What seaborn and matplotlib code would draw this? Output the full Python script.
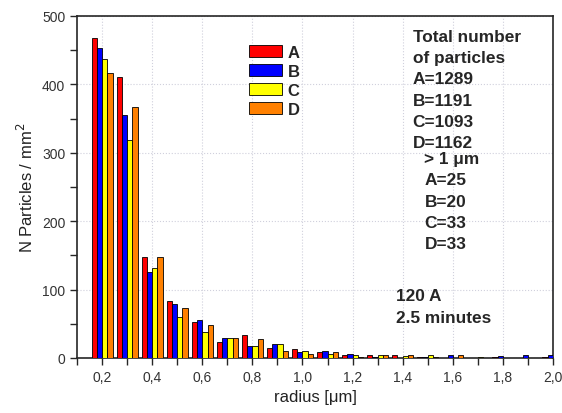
import pandas as pd
import seaborn as sns
import matplotlib.pyplot as plt
from matplotlib.ticker import MultipleLocator, FuncFormatter

# histogram bins (radius, um) and counts per mm^2 for the four samples
radius = [0.2, 0.3, 0.4, 0.5, 0.6, 0.7, 0.8, 0.9, 1.0, 1.1,
          1.2, 1.3, 1.4, 1.5, 1.6, 1.7, 1.8, 1.9, 2.0]
count_a = [468, 411, 148, 83, 53, 24, 34, 15, 13, 9, 4, 4, 4, 1, 0, 0, 1, 0, 1]
count_b = [453, 355, 125, 79, 55, 29, 17, 21, 8, 10, 6, 2, 0, 1, 4, 0, 3, 4, 4]
count_c = [437, 319, 131, 60, 38, 29, 17, 21, 10, 6, 5, 4, 3, 4, 0, 1, 0, 0, 0]
count_d = [417, 367, 148, 73, 48, 29, 28, 10, 6, 8, 1, 5, 4, 1, 4, 0, 0, 0, 0]
series = ["A", "B", "C", "D"]
colors = ["#ff0000", "#0000ff", "#ffff00", "#ff8000"]

total_text = "Total number\nof particles\nA=1289\nB=1191\nC=1093\nD=1162"
big_text = "> 1 \u03bcm\nA=25\nB=20\nC=33\nD=33"
run_text = "120 A\n2.5 minutes"

rows = []
for name, vals in zip(series, [count_a, count_b, count_c, count_d]):
    for r, v in zip(radius, vals):
        rows.append({"radius": r, "count": v, "series": name})
df = pd.DataFrame(rows)

sns.set_style("ticks")
plt.rcParams['font.family'] = ['Liberation Sans', 'DejaVu Sans']

fig = plt.figure(figsize=(5.62, 4.14), dpi=100)
ax = fig.add_axes([0.137, 0.133, 0.847, 0.826])

sns.barplot(data=df, x="radius", y="count", hue="series", palette=colors,
            saturation=1, native_scale=True, width=0.84, edgecolor="black",
            linewidth=0.6, ax=ax, zorder=3)

ax.set_xlim(0.1, 2.0)
ax.set_ylim(0, 500)
ax.xaxis.set_major_locator(MultipleLocator(0.2))
ax.xaxis.set_minor_locator(MultipleLocator(0.1))
ax.xaxis.set_major_formatter(FuncFormatter(lambda v, p: f"{v:.1f}".replace(".", ",")))
ax.yaxis.set_major_locator(MultipleLocator(100))
ax.yaxis.set_minor_locator(MultipleLocator(50))
ax.tick_params(which="both", direction="out", length=5, width=1, labelsize=10,
               labelcolor="#333333")
ax.grid(True, which="major", linestyle=":", color="#d0d0dc", linewidth=0.8, zorder=0)
for s in ax.spines.values():
    s.set_visible(True)
    s.set_linewidth(1.2)

ax.set_xlabel("radius [\u03bcm]", fontsize=12, color="#222222")
ax.set_ylabel("N Particles / mm$^2$", fontsize=12, color="#222222")

leg = ax.legend(loc="upper left", bbox_to_anchor=(0.33, 0.96), frameon=False,
                fontsize=12, handlelength=2.0, handleheight=0.78,
                labelspacing=0.24, handletextpad=0.3)
for t in leg.get_texts():
    t.set_fontweight("bold")

ax.text(0.705, 0.962, total_text, transform=ax.transAxes, fontsize=12.4,
        fontweight="bold", va="top", ha="left", linespacing=1.52)
ax.text(0.73, 0.605, big_text, transform=ax.transAxes, fontsize=12.4,
        fontweight="bold", va="top", ha="left", linespacing=1.52)
ax.text(0.67, 0.205, run_text, transform=ax.transAxes, fontsize=12.4,
        fontweight="bold", va="top", ha="left", linespacing=1.6)

fig.savefig("out.png", dpi=100)
